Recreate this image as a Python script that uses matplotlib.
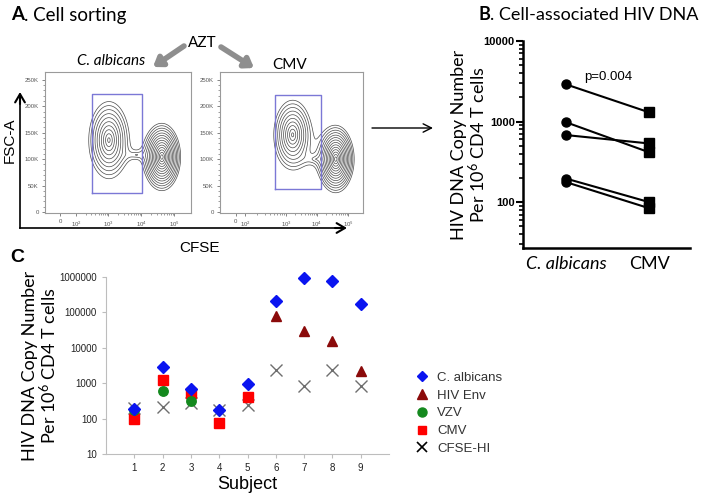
"""
plot.py
=======
Three-panel figure: (A) CFSE sorting contour plots, (B) paired HIV DNA
levels, (C) HIV DNA per subject and antigen.  Writes out.png.
"""

import numpy as np
import matplotlib
matplotlib.use("Agg")
import matplotlib.pyplot as plt
from matplotlib.lines import Line2D
from matplotlib.ticker import NullFormatter, FixedLocator

plt.rcParams["font.family"] = ["Liberation Sans", "DejaVu Sans"]
plt.rcParams["mathtext.fontset"] = "custom"
plt.rcParams["mathtext.rm"] = "Lato"
plt.rcParams["mathtext.it"] = "Lato:italic"
CAL = ["Lato", "DejaVu Sans"]  # stand-in for Calibri

# ---------------------------------------------------------------- data
# Panel A: gates (CFSE decade units, FSC in thousands) and population blobs
# (centre t, centre FSC, spread t, spread FSC, weight).
gate_calb = [2.50, 4.02, 36.5, 223.0]
gate_cmv = [2.79, 4.20, 43.6, 221.6]
pops_calb = [(3.02, 136, 0.25, 30, 1.0), (4.62, 104, 0.16, 18, 3.0),
             (3.85, 108, 0.30, 8, 0.10)]
pops_cmv = [(3.33, 146, 0.24, 27, 1.0), (4.66, 100, 0.16, 18, 3.0),
            (4.05, 100, 0.30, 8, 0.10)]
flow_xticks_calb = [1.55, 2.03, 3.0, 4.0, 5.0]
flow_xticks_cmv = [1.58, 1.86, 3.13, 4.08, 5.04]
flow_xlabels = ["0", "10$^2$", "10$^3$", "10$^4$", "10$^5$"]
flow_yticks = [0, 50, 100, 150, 200, 250]
flow_ylabels = ["0", "50K", "100K", "150K", "200K", "250K"]

# Panel B: paired values
b_groups = ["C. albicans", "CMV"]
b_calb = [2890, 980, 680, 196, 177]
b_cmv = [1300, 415, 535, 100, 84]

# Panel C: per subject
subjects = [1, 2, 3, 4, 5, 6, 7, 8, 9]
c_calb = [188, 2870, 670, 173, 975, 210000, 950000, 780000, 170000]
c_env = [np.nan] * 5 + [80000, 29000, 16000, 2240]
c_vzv = [180, 613, 318] + [np.nan] * 6
c_cmv = [100, 1260, 515, 77, 395] + [np.nan] * 4
c_cfse = [200, 210, 280, 170, 235, 2300, 815, 2300, 830]

W, H = 706, 496
fig = plt.figure(figsize=(W / 100, H / 100), dpi=100)

# pixel-space overlay for titles, arrows and free text
ov = fig.add_axes([0, 0, 1, 1])
ov.set_xlim(0, W)
ov.set_ylim(H, 0)
ov.axis("off")


def box(x0, y0, x1, y1):
    """pixel box (top-left / bottom-right) -> figure fraction rect"""
    return [x0 / W, 1 - y1 / H, (x1 - x0) / W, (y1 - y0) / H]


def title(x, y, bold, rest, size):
    t = ov.text(x, y, bold, fontsize=size, fontweight="bold", family=CAL,
                va="center", ha="left")
    ov.annotate(rest, xy=(1, 0.5), xycoords=t, va="center", ha="left",
                fontsize=size, family=CAL)


# ---------------------------------------------------------------- panel A
def flow_plot(rect, pops, gate, xticks):
    ax = fig.add_axes(rect)
    tg = np.linspace(1.09, 5.5, 360)
    fg = np.linspace(-2, 265, 360)
    T, F = np.meshgrid(tg, fg)
    dens = np.zeros_like(T)
    for cx, cy, sx, sy, w in pops:
        r = np.sqrt(((T - cx) / sx) ** 2 + ((F - cy) / sy) ** 2)
        dens += w * np.exp(-r)
    levels = np.sort(dens.max() * np.exp(-np.linspace(0.2, 3.5, 14)))
    ax.contour(T, F, dens, levels=levels, colors="#4a4a4a", linewidths=0.5)
    x0, x1, y0, y1 = gate
    ax.plot([x0, x1, x1, x0, x0], [y0, y0, y1, y1, y0], color="#7b78d6", lw=1.0)
    ax.set_xlim(1.09, 5.5)
    ax.set_ylim(-2, 265)
    ax.set_xticks(xticks)
    ax.set_xticklabels(flow_xlabels)
    ax.set_yticks(flow_yticks)
    ax.set_yticklabels(flow_ylabels)
    minors = []
    for a, b in zip(xticks[1:-1], xticks[2:]):
        minors += [a + (b - a) * np.log10(m) for m in range(2, 10)]
    ax.xaxis.set_minor_locator(FixedLocator(minors))
    ax.yaxis.set_minor_locator(FixedLocator(np.arange(10, 260, 10)))
    ax.tick_params(labelsize=4.3, colors="#555555", length=2.5, width=0.5, pad=2)
    ax.tick_params(which="minor", length=1.5, width=0.4, colors="#555555")
    for s in ax.spines.values():
        s.set_color("#9a9a9a")
        s.set_linewidth(0.8)
    return ax


flow_plot(box(45, 72, 191, 213), pops_calb, gate_calb, flow_xticks_calb)
flow_plot(box(220, 72, 363, 213), pops_cmv, gate_cmv, flow_xticks_cmv)

title(11, 15, "A", ". Cell sorting", 13.5)
ov.text(111, 61, "C. albicans", fontsize=11, style="italic", family=CAL,
        ha="center", va="center")
ov.text(290, 65, "CMV", fontsize=11, family=CAL, ha="center", va="center")
ov.text(202, 43, "AZT", fontsize=11, family=CAL, ha="center", va="center")
gray_arrow = dict(arrowstyle="-|>,head_length=0.5,head_width=0.35",
                  color="#8e8e8e", lw=4, shrinkA=0, shrinkB=0)
ov.annotate("", xy=(153, 67), xytext=(184, 46), arrowprops=gray_arrow)
ov.annotate("", xy=(254, 68), xytext=(221, 47), arrowprops=gray_arrow)

# big FSC-A / CFSE axes
ov.plot([20, 20], [228, 100], color="black", lw=1.2)
ov.plot([20, 338], [228, 228], color="black", lw=1.2)
ov.annotate("", xy=(20, 92), xytext=(20, 104),
            arrowprops=dict(arrowstyle="->,head_length=0.6,head_width=0.35",
                            color="black", lw=1.5, shrinkA=0, shrinkB=0))
ov.annotate("", xy=(347, 228), xytext=(335, 228),
            arrowprops=dict(arrowstyle="->,head_length=0.6,head_width=0.35",
                            color="black", lw=1.5, shrinkA=0, shrinkB=0))
ov.text(10, 140, "FSC-A", fontsize=11, rotation=90, ha="center", va="center")
ov.text(200, 248, "CFSE", fontsize=11, ha="center", va="center")

# arrow A -> B
ov.annotate("", xy=(433, 128), xytext=(372, 128),
            arrowprops=dict(arrowstyle="->,head_length=0.6,head_width=0.3",
                            color="black", lw=1.0, shrinkA=0, shrinkB=0))

# ---------------------------------------------------------------- panel B
title(478, 15, "B", ". Cell-associated HIV DNA", 13)
axb = fig.add_axes(box(523, 41, 690, 248))
for lo, hi in zip(b_calb, b_cmv):
    axb.plot([0, 1], [lo, hi], color="black", lw=1.5)
axb.plot(np.zeros(len(b_calb)), b_calb, "o", color="black", ms=6.5)
axb.plot(np.ones(len(b_cmv)), b_cmv, "s", color="black", ms=6.5)
axb.set_yscale("log")
axb.set_ylim(27, 10000)
axb.set_xlim(-0.52, 1.49)
axb.set_yticks([100, 1000, 10000])
axb.set_yticklabels(["100", "1000", "10000"], fontweight="bold", fontsize=8)
axb.yaxis.set_minor_formatter(NullFormatter())
axb.set_xticks([0, 1])
axb.set_xticklabels(b_groups, fontsize=13, family=CAL)
axb.get_xticklabels()[0].set_style("italic")
axb.tick_params(axis="x", length=0, pad=6)
axb.tick_params(axis="y", which="major", length=5, width=1.5, pad=1)
axb.tick_params(axis="y", which="minor", length=3, width=1.2)
for s in ("top", "right"):
    axb.spines[s].set_visible(False)
for s in ("left", "bottom"):
    axb.spines[s].set_linewidth(1.8)
axb.text(0.5, 3000, "p=0.004", fontsize=9.5, ha="center", va="bottom")
axb.set_ylabel("HIV DNA Copy Number\nPer 10$^{6}$ CD4 T cells", fontsize=13,
               family=CAL, labelpad=-3, linespacing=1.0)

# ---------------------------------------------------------------- panel C
ov.text(10, 258, "C", fontsize=14, fontweight="bold", ha="left", va="center")
axc = fig.add_axes(box(106, 277, 389, 454))
axc.plot(subjects, c_cfse, "x", color="#6e6e6e", ms=8, mew=1.0,
         clip_on=False)
axc.plot(subjects, c_cmv, "s", color="#ff0000", ms=6.5, clip_on=False)
axc.plot(subjects, c_vzv, "o", color="#14891e", ms=6.8, clip_on=False)
axc.plot(subjects, c_env, "^", color="#8b0a0a", ms=7.5, clip_on=False)
axc.plot(subjects, c_calb, "D", color="#0a14f0", ms=6, clip_on=False)
axc.set_yscale("log")
axc.set_ylim(10, 1e6)
axc.set_xlim(0, 10)
axc.set_xticks(subjects)
axc.set_yticks([10, 100, 1000, 10000, 100000, 1000000])
axc.set_yticklabels(["10", "100", "1000", "10000", "100000", "1000000"])
axc.yaxis.set_minor_locator(FixedLocator([]))
axc.tick_params(labelsize=7, colors="#bdbdbd", labelcolor="#222222",
                length=3, width=0.8)
for s in ("top", "right"):
    axc.spines[s].set_visible(False)
for s in ("left", "bottom"):
    axc.spines[s].set_color("#bdbdbd")
axc.set_xlabel("Subject", fontsize=13, labelpad=2)
axc.set_ylabel("HIV DNA Copy Number\nPer 10$^{6}$ CD4 T cells", fontsize=13,
               family=CAL, labelpad=0, linespacing=1.0)

handles = [
    Line2D([0], [0], ls="", marker="D", color="#0a14f0", ms=5.5, label="C. albicans"),
    Line2D([0], [0], ls="", marker="^", color="#8b0a0a", ms=6.5, label="HIV Env"),
    Line2D([0], [0], ls="", marker="o", color="#14891e", ms=6.5, label="VZV"),
    Line2D([0], [0], ls="", marker="s", color="#ff0000", ms=6, label="CMV"),
    Line2D([0], [0], ls="", marker="x", color="black", ms=6.5, mew=1.2, label="CFSE-HI"),
]
fig.legend(handles=handles, loc="upper left", bbox_to_anchor=(407 / W, 1 - 365 / H),
           frameon=False, fontsize=9.5, handletextpad=0.6, labelspacing=0.42,
           borderpad=0, handlelength=1.2, labelcolor="#333333")

fig.savefig("out.png", dpi=100)
